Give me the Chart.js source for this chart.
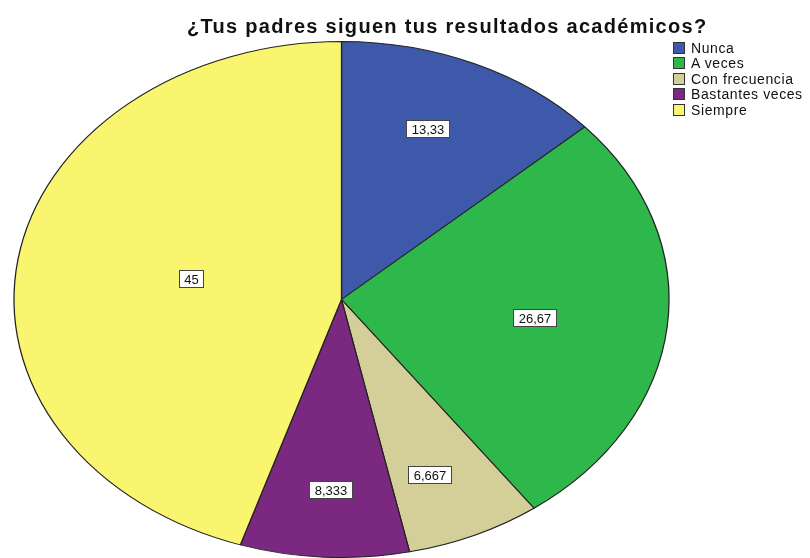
<!DOCTYPE html>
<html>
<head>
<meta charset="utf-8">
<script src="https://cdn.jsdelivr.net/npm/chart.js@4/dist/chart.umd.min.js"></script>
<style>
  body { margin: 0; background: #fff; }
  #wrap { position: relative; width: 810px; height: 558px; overflow: hidden; }
  #title {
    position: absolute; left: 187px; top: 15px; white-space: nowrap;
    font: bold 20px "Liberation Sans", Arial, sans-serif; letter-spacing: 1.3px;
    line-height: 22px; color: #111;
  }
  #legend { position: absolute; left: 673px; top: 40px; }
  .item { height: 15.5px; display: flex; align-items: center; white-space: nowrap;
    font: 14px "Liberation Sans", Arial, sans-serif; letter-spacing: 0.6px; color: #111; }
  .sw { width: 12px; height: 12px; box-sizing: border-box; border: 1px solid #333; margin-right: 6px; }
  canvas { position: absolute; left: 0; top: 0; }
</style>
</head>
<body>
<div id="wrap">
  <canvas id="pie" width="810" height="558"></canvas>
  <div id="title">¿Tus padres siguen tus resultados académicos?</div>
  <div id="legend"></div>
</div>
<script>
const categories = ['Nunca', 'A veces', 'Con frecuencia', 'Bastantes veces', 'Siempre'];
const percents = [13.33, 26.67, 6.667, 8.333, 45];
const valueLabels = ['13,33', '26,67', '6,667', '8,333', '45'];
const colors = ['#3E59AA', '#2EB84B', '#D4CE99', '#7A2880', '#FAF56F'];

// legend
const legendEl = document.getElementById('legend');
categories.forEach(function (name, i) {
    const row = document.createElement('div');
    row.className = 'item';
    row.innerHTML = '<span class="sw" style="background:' + colors[i] + '"></span>' + name;
    legendEl.appendChild(row);
});

const pieHalfWidth = 327.5;   // horizontal radius of the ellipse
const labelFy = 1.12;         // labels sit a bit lower/higher than the slice centroid

// stretch the round pie into an ellipse and draw the value boxes
const ellipsePie = {
    id: 'ellipsePie',
    beforeDatasetsDraw(chart) {
        const arc = chart.getDatasetMeta(0).data[0];
        const ctx = chart.ctx;
        ctx.save();
        ctx.translate(arc.x, 0);
        ctx.scale(pieHalfWidth / arc.outerRadius, 1);
        ctx.translate(-arc.x, 0);
    },
    afterDatasetsDraw(chart) {
        const ctx = chart.ctx;
        ctx.restore();
        const sx = pieHalfWidth / chart.getDatasetMeta(0).data[0].outerRadius;
        ctx.save();
        ctx.font = '13px "Liberation Sans", Arial, sans-serif';
        ctx.textAlign = 'center';
        ctx.textBaseline = 'middle';
        chart.getDatasetMeta(0).data.forEach(function (arc, i) {
            const mid = (arc.startAngle + arc.endAngle) / 2;
            const half = (arc.endAngle - arc.startAngle) / 2;
            // centroid distance of a circular sector
            const f = (2 / 3) * Math.sin(half) / half;
            const x = arc.x + Math.cos(mid) * arc.outerRadius * f * sx;
            const y = arc.y + Math.sin(mid) * arc.outerRadius * f * labelFy;
            const w = Math.round(ctx.measureText(valueLabels[i]).width + 10);
            const h = 17;
            const bx = Math.round(x - w / 2) + 0.5, by = Math.round(y - h / 2) + 0.5;
            ctx.fillStyle = '#fff';
            ctx.fillRect(bx, by, w, h);
            ctx.strokeStyle = '#444';
            ctx.lineWidth = 1;
            ctx.strokeRect(bx, by, w, h);
            ctx.fillStyle = '#111';
            ctx.fillText(valueLabels[i], bx + w / 2, by + h / 2 + 1);
        });
        ctx.restore();
    }
};

new Chart(document.getElementById('pie'), {
    type: 'pie',
    data: {
        labels: categories,
        datasets: [{
            data: percents,
            backgroundColor: colors,
            borderColor: '#222',
            borderWidth: 1
        }]
    },
    options: {
        responsive: false,
        animation: false,
        layout: { padding: { left: 83, right: 210, top: 41, bottom: 0 } },
        plugins: {
            legend: { display: false },
            title: { display: false },
            tooltip: { enabled: false }
        }
    },
    plugins: [ellipsePie]
});
</script>
</body>
</html>
